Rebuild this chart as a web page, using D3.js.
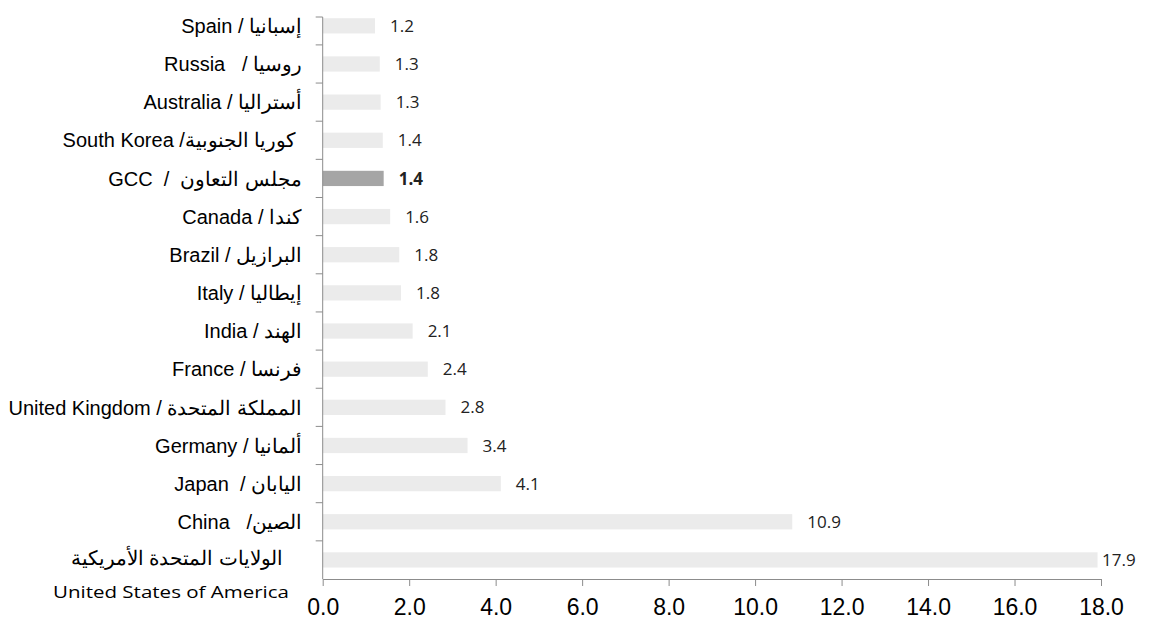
<!DOCTYPE html>
<html>
<head>
<meta charset="utf-8">
<title>GDP chart</title>
<script src="https://cdn.jsdelivr.net/npm/d3@7"></script>
<style>
  body { margin: 0; background: #fff; }
  svg text { fill: #000; white-space: pre; }
</style>
</head>
<body>
<svg id="chart" width="1156" height="619"></svg>
<script>
// categories top -> bottom
var labels = [
  "Spain / إسبانيا",
  "Russia   / روسيا",
  "Australia / أستراليا",
  "South Korea /كوريا الجنوبية ",
  "GCC  /  مجلس التعاون",
  "Canada / كندا",
  "Brazil / البرازيل",
  "Italy / إيطاليا",
  "India / الهند",
  "France / فرنسا",
  "United Kingdom / المملكة المتحدة",
  "Germany / ألمانيا",
  "Japan  / اليابان",
  "China   /الصين",
  "USA"
];
var values = [1.21, 1.32, 1.34, 1.39, 1.41, 1.56, 1.77, 1.81, 2.08, 2.43, 2.84, 3.35, 4.12, 10.86, 17.92];
var highlight = "GCC  /  مجلس التعاون";
var usaArabic = "الولايات المتحدة الأمريكية";
var usaEnglish = "United States of America";
var xTicks = [0, 2, 4, 6, 8, 10, 12, 14, 16, 18];

var svg = d3.select("#chart");
var x0 = 322.7, x1 = 1101, yBottom = 579, band = 38.15;

var x = d3.scaleLinear().domain([0, 18]).range([x0, x1]);
var y = d3.scaleBand()
  .domain(labels)
  .range([yBottom - band * labels.length, yBottom])
  .paddingInner(0.6).paddingOuter(0.3);

var axisColor = "#8c8c8c";

// bars
svg.selectAll("rect.bar")
  .data(labels)
  .enter().append("rect")
  .attr("class", "bar")
  .attr("x", x(0))
  .attr("y", d => y(d))
  .attr("height", y.bandwidth())
  .attr("width", (d, i) => x(values[i]) - x(0))
  .attr("fill", d => d === highlight ? "#a5a5a5" : "#ebebeb");

// value labels
svg.selectAll("text.val")
  .data(labels)
  .enter().append("text")
  .attr("class", "val")
  .attr("x", (d, i) => Math.min(x(values[i]) + 15, 1102))
  .attr("y", d => y(d) + y.bandwidth() / 2)
  .attr("dy", "0.36em")
  .style("font-family", "'Open Sans', sans-serif")
  .style("font-size", "17px")
  .style("font-weight", d => d === highlight ? "bold" : "normal")
  .style("fill", "#222")
  .text((d, i) => d3.format(".1f")(values[i]));

// y axis
var yAxis = svg.append("g");
yAxis.append("line")
  .attr("x1", x0).attr("x2", x0)
  .attr("y1", 17).attr("y2", yBottom)
  .attr("stroke", axisColor);
var bounds = labels.map(d => y(d) - y.step() * y.paddingInner() / 2);
bounds[0] = 17;
yAxis.selectAll("line.tick")
  .data(bounds)
  .enter().append("line")
  .attr("class", "tick")
  .attr("x1", x0 - 7).attr("x2", x0)
  .attr("y1", d => d).attr("y2", d => d)
  .attr("stroke", axisColor);

// category labels
svg.selectAll("text.cat")
  .data(labels.filter(d => d !== "USA"))
  .enter().append("text")
  .attr("class", "cat")
  .attr("x", 302)
  .attr("y", d => y(d) + y.bandwidth() / 2)
  .attr("dy", "0.36em")
  .attr("text-anchor", "end")
  .style("font-family", "'Liberation Sans', Arial, sans-serif")
  .style("font-size", "20px")
  .style("direction", "ltr")
  .text(d => d);

svg.append("text")
  .attr("x", 283).attr("y", y("USA") + 13)
  .attr("text-anchor", "end")
  .style("font-family", "'Liberation Sans', Arial, sans-serif")
  .style("font-size", "20px")
  .text(usaArabic);
svg.append("text")
  .attr("x", 53).attr("y", y("USA") + 46)
  .attr("textLength", 236)
  .attr("lengthAdjust", "spacingAndGlyphs")
  .style("font-family", "'Open Sans', sans-serif")
  .style("font-size", "17px")
  .text(usaEnglish);

// x axis
var xAxis = svg.append("g")
  .attr("transform", "translate(0," + yBottom + ")")
  .call(d3.axisBottom(x).tickValues(xTicks).tickFormat(d3.format(".1f"))
    .tickSizeInner(7).tickSizeOuter(0).tickPadding(13));
xAxis.select(".domain").attr("stroke", axisColor);
xAxis.selectAll(".tick line").attr("stroke", axisColor);
xAxis.selectAll(".tick text")
  .style("font-family", "'Liberation Sans', Arial, sans-serif")
  .style("font-size", "23px")
  .attr("fill", "#000");
</script>
</body>
</html>
